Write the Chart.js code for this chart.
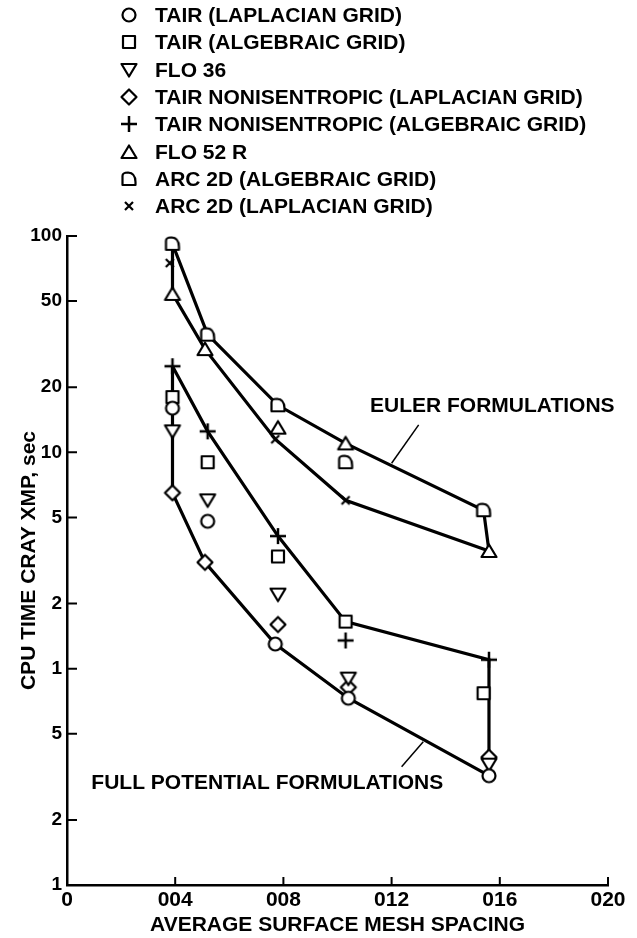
<!DOCTYPE html>
<html>
<head>
<meta charset="utf-8">
<script src="https://cdn.jsdelivr.net/npm/chart.js@4/dist/chart.umd.min.js"></script>
<style>
  html, body { margin: 0; padding: 0; background: #fff; }
  #wrap { position: relative; width: 637px; height: 938px; }
  #legend { position: absolute; left: 0; top: 0; font: bold 21px "Liberation Sans", Arial, sans-serif; color: #000; }
  .row { position: absolute; left: 118px; height: 27px; display: flex; align-items: center; white-space: nowrap; }
  .row img { width: 22px; height: 22px; margin-right: 15px; }
</style>
</head>
<body>
<div id="wrap">
  <canvas id="cpuChart" width="637" height="938"></canvas>
  <div id="legend"></div>
</div>
<script>
// ---- data ----
const xTickValues = [0, 0.004, 0.008, 0.012, 0.016, 0.020];
const xTickLabels = ['0', '004', '008', '012', '016', '020'];
const yTickValues = [0.1, 0.2, 0.5, 1, 2, 5, 10, 20, 50, 100];
const yTickLabels = ['1', '2', '5', '1', '2', '5', '10', '20', '50', '100'];

const tairLapX = [0.0039, 0.0052, 0.0077, 0.0104, 0.0156];
const tairLapY = [16, 4.8, 1.3, 0.73, 0.32];
const tairAlgX = [0.0039, 0.0052, 0.0078, 0.0103, 0.0154];
const tairAlgY = [18, 9, 3.3, 1.65, 0.77];
const flo36X = [0.0039, 0.0052, 0.0078, 0.0104, 0.0156];
const flo36Y = [12.5, 6, 2.2, 0.9, 0.36];
const nonLapX = [0.0039, 0.0051, 0.0078, 0.0104, 0.0156];
const nonLapY = [6.5, 3.1, 1.6, 0.82, 0.39];
const nonAlgX = [0.0039, 0.0052, 0.0078, 0.0103, 0.0156];
const nonAlgY = [25, 12.5, 4.1, 1.35, 1.1];
const flo52X = [0.0039, 0.0051, 0.0078, 0.0103, 0.0156];
const flo52Y = [54, 30, 13, 11, 3.5];
const arcAlgX = [0.0039, 0.0052, 0.0078, 0.0103, 0.0154];
const arcAlgY = [92, 35, 16.5, 9, 5.4];
const arcLapX = [0.0038, 0.0077, 0.0103];
const arcLapY = [75, 11.5, 6];

// envelope lines of the two groups
const eulerUpperX = [0.0039, 0.0052, 0.0078, 0.0103, 0.0154, 0.0156];
const eulerUpperY = [92, 35, 16.5, 11, 5.4, 3.5];
const eulerLowerX = [0.0039, 0.0039, 0.0051, 0.0077, 0.0103, 0.0156];
const eulerLowerY = [92, 54, 30, 11.5, 6, 3.5];
const fullUpperX = [0.0039, 0.0052, 0.0078, 0.0103, 0.0156, 0.0156];
const fullUpperY = [25, 12.5, 4.1, 1.65, 1.1, 0.39];
const fullLowerX = [0.0039, 0.0039, 0.0051, 0.0077, 0.0104, 0.0156];
const fullLowerY = [25, 6.5, 3.1, 1.3, 0.73, 0.32];

const FONT = '"Liberation Sans", Arial, sans-serif';

function pts(xs, ys) {
    return xs.map((x, i) => ({ x: x, y: ys[i] }));
}

// marker shapes drawn on small canvases (used by chart and legend)
function makeMarker(kind) {
    const c = document.createElement('canvas');
    c.width = 22; c.height = 22;
    const g = c.getContext('2d');
    g.lineWidth = 2.2; g.strokeStyle = '#000'; g.fillStyle = '#fff'; g.lineJoin = 'round';
    g.beginPath();
    if (kind === 'circle') g.arc(11, 11, 6.5, 0, Math.PI * 2);
    else if (kind === 'square') g.rect(5, 5, 12, 12);
    else if (kind === 'down') { g.moveTo(3.5, 5); g.lineTo(18.5, 5); g.lineTo(11, 17.5); g.closePath(); }
    else if (kind === 'diamond') { g.moveTo(11, 3.5); g.lineTo(18.5, 11); g.lineTo(11, 18.5); g.lineTo(3.5, 11); g.closePath(); }
    else if (kind === 'up') { g.moveTo(11, 4.5); g.lineTo(18.5, 17); g.lineTo(3.5, 17); g.closePath(); }
    else if (kind === 'dome') {
        g.moveTo(4.5, 17); g.lineTo(4.5, 8);
        g.quadraticCurveTo(4.5, 4.5, 10, 4.5);
        g.quadraticCurveTo(17.5, 5, 17.5, 14);
        g.lineTo(17.5, 17); g.closePath();
    }
    if (kind === 'plus') {
        g.lineWidth = 2.5;
        g.moveTo(11, 3); g.lineTo(11, 19); g.moveTo(3, 11); g.lineTo(19, 11); g.stroke();
    } else if (kind === 'cross') {
        g.moveTo(7, 7); g.lineTo(15, 15); g.moveTo(15, 7); g.lineTo(7, 15); g.stroke();
    } else {
        g.fill(); g.stroke();
    }
    return c;
}

function markerSet(label, xs, ys, kind) {
    return {
        label: label,
        data: pts(xs, ys),
        showLine: false,
        pointStyle: makeMarker(kind),
        pointRadius: 7,
        order: 0,
        inLegend: true
    };
}

function envelope(xs, ys) {
    return {
        label: '',
        data: pts(xs, ys),
        showLine: true,
        borderColor: '#000',
        borderWidth: 3.2,
        pointRadius: 0,
        tension: 0,
        order: 5,
        inLegend: false
    };
}

// inner ticks, annotations and leader lines
const extras = {
    id: 'extras',
    afterDraw(chart) {
        const { ctx, scales: { x, y } } = chart;
        ctx.save();
        ctx.strokeStyle = '#000';
        ctx.lineWidth = 2;
        ctx.beginPath();
        yTickValues.forEach(v => {
            const py = y.getPixelForValue(v);
            ctx.moveTo(x.left, py); ctx.lineTo(x.left + 10, py);
        });
        xTickValues.forEach(v => {
            const px = x.getPixelForValue(v);
            ctx.moveTo(px, y.bottom); ctx.lineTo(px, y.bottom - 8);
        });
        ctx.stroke();

        const notes = [
            { text: 'EULER FORMULATIONS', x: 0.0112, y: 16.4, from: [0.0130, 13.4], to: [0.0120, 8.9] },
            { text: 'FULL POTENTIAL FORMULATIONS', x: 0.0009, y: 0.296, from: [0.01317, 0.459], to: [0.01237, 0.352] }
        ];
        ctx.fillStyle = '#000';
        ctx.font = 'bold 21px ' + FONT;
        ctx.textAlign = 'left';
        ctx.textBaseline = 'middle';
        ctx.lineWidth = 1.5;
        notes.forEach(n => {
            ctx.fillText(n.text, x.getPixelForValue(n.x), y.getPixelForValue(n.y));
            ctx.beginPath();
            ctx.moveTo(x.getPixelForValue(n.from[0]), y.getPixelForValue(n.from[1]));
            ctx.lineTo(x.getPixelForValue(n.to[0]), y.getPixelForValue(n.to[1]));
            ctx.stroke();
        });
        ctx.restore();
    }
};

Chart.defaults.font.family = FONT;
Chart.defaults.font.weight = 'bold';
Chart.defaults.font.size = 21;
Chart.defaults.color = '#000';

const chart = new Chart(document.getElementById('cpuChart'), {
    type: 'scatter',
    data: {
        datasets: [
            markerSet('TAIR (LAPLACIAN GRID)', tairLapX, tairLapY, 'circle'),
            markerSet('TAIR (ALGEBRAIC GRID)', tairAlgX, tairAlgY, 'square'),
            markerSet('FLO 36', flo36X, flo36Y, 'down'),
            markerSet('TAIR NONISENTROPIC (LAPLACIAN GRID)', nonLapX, nonLapY, 'diamond'),
            markerSet('TAIR NONISENTROPIC (ALGEBRAIC GRID)', nonAlgX, nonAlgY, 'plus'),
            markerSet('FLO 52 R', flo52X, flo52Y, 'up'),
            markerSet('ARC 2D (ALGEBRAIC GRID)', arcAlgX, arcAlgY, 'dome'),
            markerSet('ARC 2D (LAPLACIAN GRID)', arcLapX, arcLapY, 'cross'),
            envelope(eulerUpperX, eulerUpperY),
            envelope(eulerLowerX, eulerLowerY),
            envelope(fullUpperX, fullUpperY),
            envelope(fullLowerX, fullLowerY)
        ]
    },
    options: {
        responsive: false,
        animation: false,
        layout: { padding: { top: 236, right: 29, bottom: 0, left: 0 } },
        plugins: { legend: { display: false }, tooltip: { enabled: false } },
        scales: {
            x: {
                type: 'linear',
                min: 0,
                max: 0.02,
                afterBuildTicks: s => { s.ticks = xTickValues.map(v => ({ value: v })); },
                afterFit: s => { s.height = 53; },
                ticks: {
                    padding: 3,
                    maxRotation: 0,
                    callback: (v, i) => xTickLabels[i]
                },
                grid: { display: false, drawTicks: false },
                border: { display: true, color: '#000', width: 2.5 },
                title: { display: true, text: 'AVERAGE SURFACE MESH SPACING', padding: { top: 0, bottom: 0 } }
            },
            y: {
                type: 'logarithmic',
                min: 0.1,
                max: 100,
                afterBuildTicks: s => { s.ticks = yTickValues.map(v => ({ value: v })); },
                afterFit: s => { s.width = 67; },
                ticks: {
                    padding: 5,
                    font: { size: 19 },
                    callback: (v, i) => yTickLabels[i]
                },
                grid: { display: false, drawTicks: false },
                border: { display: true, color: '#000', width: 2.5 },
                title: { display: true, text: 'CPU TIME CRAY XMP, sec', padding: { top: 17, bottom: 0 } }
            }
        }
    },
    plugins: [extras]
});

// legend as one column above the plot
const legendBox = document.getElementById('legend');
chart.data.datasets.filter(ds => ds.inLegend).forEach((ds, i) => {
    const row = document.createElement('div');
    row.className = 'row';
    row.style.top = (1.5 + i * 27.3) + 'px';
    const img = document.createElement('img');
    img.src = ds.pointStyle.toDataURL();
    const span = document.createElement('span');
    span.textContent = ds.label;
    row.appendChild(img);
    row.appendChild(span);
    legendBox.appendChild(row);
});
</script>
</body>
</html>
